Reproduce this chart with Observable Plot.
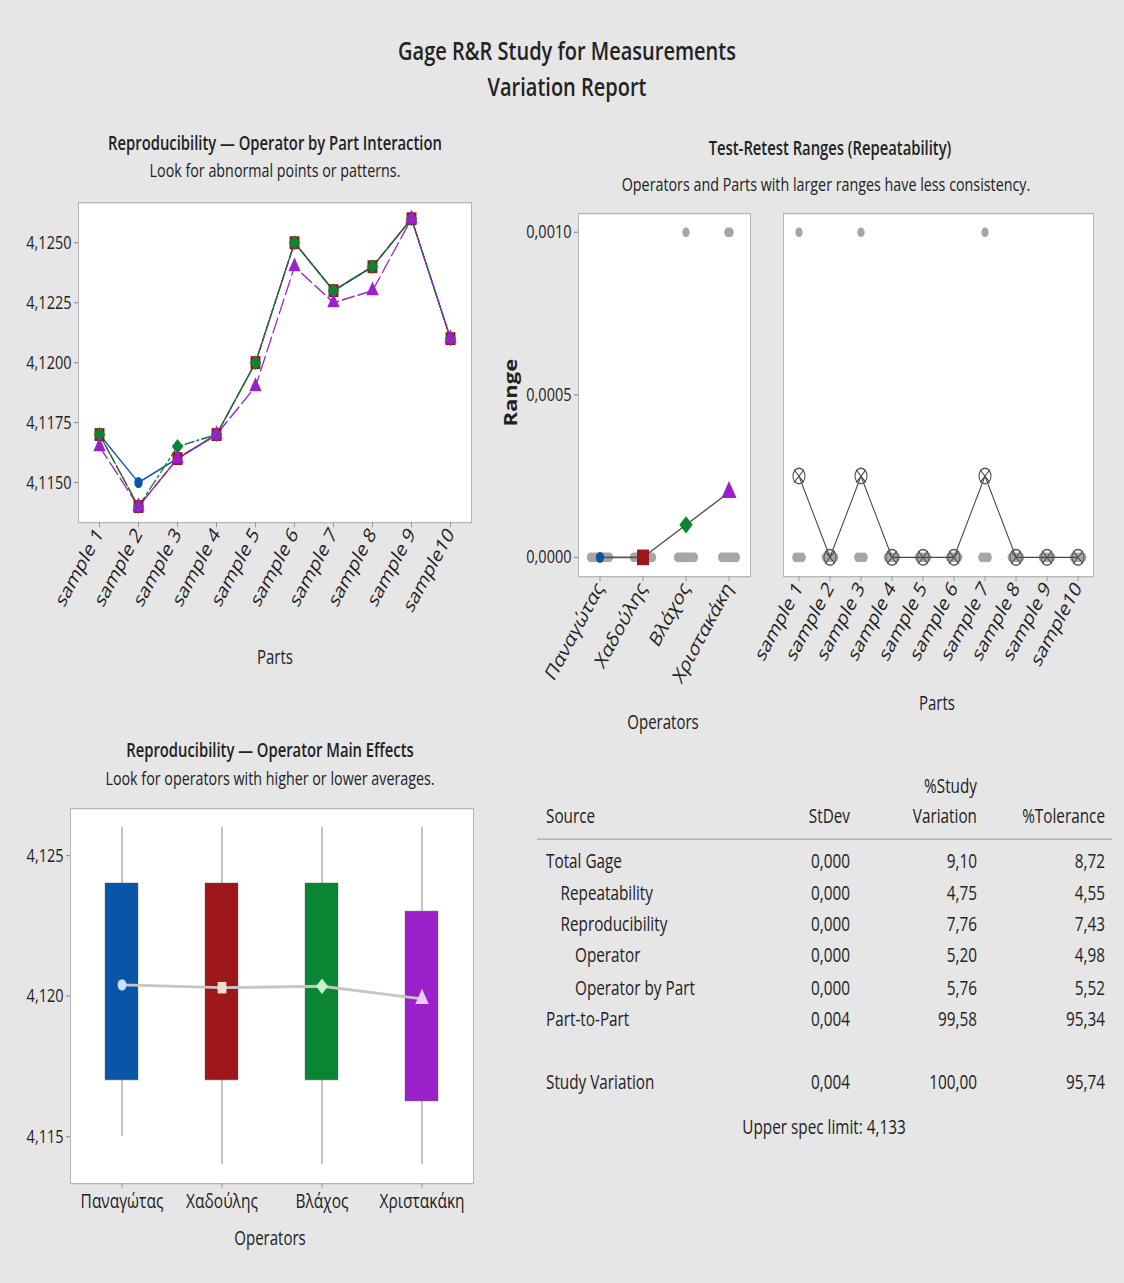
<!DOCTYPE html>
<html>
<head>
<meta charset="utf-8">
<script src="https://cdn.jsdelivr.net/npm/d3@7"></script>
<script src="https://cdn.jsdelivr.net/npm/@observablehq/plot@0.6"></script>
<style>
html,body{margin:0;padding:0;}
body{width:1124px;height:1283px;background:#e6e6e6;position:relative;overflow:hidden;font-family:"Open Sans",sans-serif;color:#222;}
#page{position:absolute;left:0;top:0;width:1124px;height:987px;transform:scaleY(1.3);transform-origin:0 0;}
.t{position:absolute;white-space:nowrap;line-height:1;}
.h1{font-size:20px;font-weight:600;}
.h2{font-size:14.8px;font-weight:600;}
.sub{font-size:14.3px;}
.ax{font-size:15px;}
.tb{font-size:15.3px;}
</style>
</head>
<body>
<div id="page"></div>
<script>
// ---------- data ----------
const operators = ["Παναγώτας", "Χαδούλης", "Βλάχος", "Χριστακάκη"];
const parts = ["sample 1","sample 2","sample 3","sample 4","sample 5","sample 6","sample 7","sample 8","sample 9","sample10"];

// average measurement per part, one array per operator
const avgPanagotas   = [4.1170, 4.1150, 4.1160, 4.1170, 4.1200, 4.1250, 4.1230, 4.1240, 4.1260, 4.1210];
const avgChadoulis   = [4.1170, 4.1140, 4.1160, 4.1170, 4.1200, 4.1250, 4.1230, 4.1240, 4.1260, 4.1210];
const avgVlachos     = [4.1170, 4.1140, 4.1165, 4.1170, 4.1200, 4.1250, 4.1230, 4.1240, 4.1260, 4.1210];
const avgChristakaki = [4.1165, 4.1140, 4.1160, 4.1170, 4.1190, 4.1240, 4.1225, 4.1230, 4.1260, 4.1210];

// test-retest range per part, one array per operator
const rangePanagotas   = [0, 0, 0, 0, 0, 0, 0, 0, 0, 0];
const rangeChadoulis   = [0, 0, 0, 0, 0, 0, 0, 0, 0, 0];
const rangeVlachos     = [0, 0, 0.001, 0, 0, 0, 0, 0, 0, 0];
const rangeChristakaki = [0.001, 0, 0, 0, 0, 0, 0.001, 0, 0, 0];

// operator main effects boxes
const boxLow  = [4.115, 4.114, 4.114, 4.114];
const boxQ1   = [4.117, 4.117, 4.117, 4.11625];
const boxQ3   = [4.124, 4.124, 4.124, 4.123];
const boxHigh = [4.126, 4.126, 4.126, 4.126];

const yTicksInteraction = [4.115, 4.1175, 4.12, 4.1225, 4.125];
const yTicksRange = [0, 0.0005, 0.001];
const yTicksMain = [4.115, 4.12, 4.125];

// table
const tableSources   = ["Total Gage","Repeatability","Reproducibility","Operator","Operator by Part","Part-to-Part","Study Variation"];
const tableIndent    = [0, 1, 1, 2, 2, 0, 0];
const tableStDev     = ["0,000","0,000","0,000","0,000","0,000","0,004","0,004"];
const tableStudyVar  = ["9,10","4,75","7,76","5,20","5,76","99,58","100,00"];
const tableTolerance = ["8,72","4,55","7,43","4,98","5,52","95,34","95,74"];
const upperSpec = "4,133";

// ---------- styling ----------
const opColors = ["#0a55a8", "#9c161a", "#0a8534", "#9a20c9"];
const opPale   = ["#c2e2ff", "#fbdacf", "#c9f2c9", "#eccaf6"];
const opSymbols = ["circle", "square", "diamond2", "triangle"];
const opDash = ["none", "7,3", "9,3,2,3", "12,4"];
const FONT = '"Open Sans", sans-serif';
const comma = f => d => d3.format(f)(d).replace(".", ",");

const page = document.getElementById("page");
function place(svg, left, top) {
  svg.style.position = "absolute";
  svg.style.left = left + "px";
  svg.style.top = top + "px";
  page.appendChild(svg);
}
function txt(s, x, y, cls, align = "center", extra = "") {
  const d = document.createElement("div");
  d.className = "t " + cls;
  d.textContent = s;
  let tr;
  if (align === "center") { d.style.left = x + "px"; tr = "translate(-50%,-50%)"; }
  else if (align === "left") { d.style.left = x + "px"; tr = "translateY(-50%)"; }
  else { d.style.right = (1124 - x) + "px"; tr = "translateY(-50%)"; }
  d.style.top = y + "px";
  d.style.transform = tr + " " + extra;
  page.appendChild(d);
  return d;
}
function frameMargins(svgBox, frame) {
  return {
    width: svgBox.w, height: svgBox.h,
    marginLeft: frame.x0 - svgBox.l, marginRight: svgBox.l + svgBox.w - frame.x1,
    marginTop: frame.y0 - svgBox.t, marginBottom: svgBox.t + svgBox.h - frame.y1
  };
}
const baseStyle = {background: "transparent", color: "#222", fontFamily: FONT, fontSize: "14.5px", overflow: "visible"};

// ---------- titles ----------
txt("Gage R&R Study for Measurements", 567, 38.5, "h1");
txt("Variation Report", 567, 66.9, "h1");
txt("Reproducibility — Operator by Part Interaction", 275, 110, "h2");
txt("Look for abnormal points or patterns.", 275, 130.8, "sub");
txt("Test-Retest Ranges (Repeatability)", 830, 113.8, "h2");
txt("Operators and Parts with larger ranges have less consistency.", 826, 142.3, "sub");
txt("Reproducibility — Operator Main Effects", 270, 576.9, "h2");
txt("Look for operators with higher or lower averages.", 270, 599.2, "sub");

// ---------- panel 1: interaction ----------
const avgs = [avgPanagotas, avgChadoulis, avgVlachos, avgChristakaki];
const interData = operators.flatMap((op, i) => parts.map((p, j) => ({op, i, part: p, value: avgs[i][j]})));
const p1r = [4.2, 5.6, 5.2, 4.6];
const p1 = Plot.plot({
  ...frameMargins({l: 0, t: 140, w: 490, h: 380}, {x0: 78, x1: 471, y0: 155.4, y1: 401.5}),
  style: baseStyle,
  x: {type: "point", domain: parts, padding: 0.5},
  y: {domain: [4.11333, 4.12667]},
  marks: [
    Plot.frame({fill: "white", stroke: "#b5b5b5"}),
    Plot.axisY({ticks: yTicksInteraction, tickFormat: comma(".4f"), tickSize: 4, tickPadding: 3, label: null, stroke: "#999", fill: "#222", fontSize: 14.5}),
    Plot.axisX({tickRotate: -55, tickSize: 4, tickPadding: 2, label: null, stroke: "#999", fill: "#222", fontSize: 16.5}),
    ...operators.map((op, i) => Plot.line(interData.filter(d => d.i === i), {x: "part", y: "value", stroke: opColors[i], strokeWidth: 1.2, strokeDasharray: opDash[i]})),
    ...operators.map((op, i) => Plot.dot(interData.filter(d => d.i === i), {x: "part", y: "value", fill: opColors[i], symbol: opSymbols[i], r: p1r[i]}))
  ]
});
place(p1, 0, 140);
txt("Parts", 275, 505.4, "ax");

// ---------- panel 2 & 3: ranges ----------
const ranges = [rangePanagotas, rangeChadoulis, rangeVlachos, rangeChristakaki];
const rangeData = operators.flatMap((op, i) => parts.map((p, j) => ({op, i, j, part: p, value: ranges[i][j]})));
// spread tied values side by side (fixed spacing in x units)
function withOffsets(rows, key, spacing) {
  const out = [];
  for (const [, byVal] of d3.group(rows, d => d[key], d => d.value)) {
    for (const [, items] of byVal) {
      const n = items.length;
      items.forEach((d, k) => out.push({...d, xo: d[key] + (k - (n - 1) / 2) * spacing}));
    }
  }
  return out;
}
const opMeans = operators.map((op, i) => ({op, i, value: d3.mean(ranges[i])}));
const partMeans = parts.map((p, j) => ({part: p, j, value: d3.mean(ranges, r => r[j])}));
const rangeDomain = [-0.0000594, 0.0010575];
const p2r = [4.2, 6.8, 6.0, 5.6];

const p2 = Plot.plot({
  ...frameMargins({l: 490, t: 150, w: 270, h: 380}, {x0: 578, x1: 750, y0: 163.8, y1: 443.1}),
  style: baseStyle,
  x: {type: "linear", domain: [-0.5, 3.5]},
  y: {domain: rangeDomain},
  marks: [
    Plot.frame({fill: "white", stroke: "#b5b5b5"}),
    Plot.axisY({ticks: yTicksRange, tickFormat: comma(".4f"), tickSize: 4, tickPadding: 3, label: null, stroke: "#999", fill: "#222", fontSize: 14.5}),
    Plot.axisX({ticks: [0, 1, 2, 3], tickFormat: i => operators[i], tickRotate: -55, tickSize: 4, tickPadding: 2, label: null, stroke: "#999", fill: "#222", fontSize: 16.5}),
    Plot.dot(withOffsets(rangeData, "i", 0.049), {x: "xo", y: "value", r: 3.7, fill: "#a6a6a6"}),
    Plot.line(opMeans, {x: "i", y: "value", stroke: "#555", strokeWidth: 1.2}),
    ...operators.map((op, i) => Plot.dot(opMeans.filter(d => d.i === i), {x: "i", y: "value", fill: opColors[i], symbol: opSymbols[i], r: p2r[i]}))
  ]
});
place(p2, 490, 150);
txt("Range", 510, 302.3, "", "center", "rotate(-90deg)").style.cssText += "font-size:17px;font-weight:700;";
txt("Operators", 663, 555.4, "ax");

const p3 = Plot.plot({
  ...frameMargins({l: 760, t: 150, w: 364, h: 380}, {x0: 783, x1: 1093, y0: 163.8, y1: 443.1}),
  style: baseStyle,
  x: {type: "linear", domain: [-0.5, 9.5]},
  y: {domain: rangeDomain, axis: null},
  marks: [
    Plot.frame({fill: "white", stroke: "#b5b5b5"}),
    Plot.axisX({ticks: d3.range(parts.length), tickFormat: j => parts[j], tickRotate: -55, tickSize: 4, tickPadding: 2, label: null, stroke: "#999", fill: "#222", fontSize: 16.5}),
    Plot.dot(withOffsets(rangeData, "j", 0.1), {x: "xo", y: "value", r: 3.7, fill: "#a6a6a6"}),
    Plot.line(partMeans, {x: "j", y: "value", stroke: "#444", strokeWidth: 1}),
    Plot.dot(partMeans, {x: "j", y: "value", r: 6, stroke: "#555", strokeWidth: 1.1, fill: "none"}),
    Plot.dot(partMeans, {x: "j", y: "value", r: 4.5, symbol: "times", stroke: "#555", strokeWidth: 1})
  ]
});
place(p3, 760, 150);
txt("Parts", 937, 540.8, "ax");

// ---------- panel 4: operator main effects ----------
const opAvg = avgs.map(a => d3.mean(a));
const boxRows = operators.map((op, i) => ({op, i, lo: boxLow[i], q1: boxQ1[i], q3: boxQ3[i], hi: boxHigh[i], mean: opAvg[i]}));
const p4r = [4.4, 5.0, 5.4, 5.0];
const p4 = Plot.plot({
  ...frameMargins({l: 0, t: 610, w: 490, h: 330}, {x0: 70, x1: 473, y0: 621.5, y1: 910}),
  style: baseStyle,
  x: {type: "band", domain: operators, paddingInner: 0.67, paddingOuter: 0.335},
  y: {domain: [4.11333, 4.12667]},
  color: {domain: operators, range: opColors},
  marks: [
    Plot.frame({fill: "white", stroke: "#b5b5b5"}),
    Plot.axisY({ticks: yTicksMain, tickFormat: comma(".3f"), tickSize: 4, tickPadding: 3, label: null, stroke: "#999", fill: "#222", fontSize: 14.5}),
    Plot.axisX({tickSize: 4, tickPadding: 4, label: null, stroke: "#999", fill: "#222", fontSize: 15.5}),
    Plot.ruleX(boxRows, {x: "op", y1: "lo", y2: "hi", stroke: "#8a8a8a", strokeWidth: 1}),
    Plot.barY(boxRows, {x: "op", y1: "q1", y2: "q3", fill: "op", stroke: "#555", strokeOpacity: 0.35}),
    Plot.line(boxRows, {x: "op", y: "mean", stroke: "#c6c6c6", strokeWidth: 2.2}),
    ...operators.map((op, i) => Plot.dot(boxRows.filter(d => d.i === i), {x: "op", y: "mean", fill: opPale[i], symbol: opSymbols[i], r: p4r[i]}))
  ]
});
place(p4, 0, 610);
txt("Operators", 270, 951.5, "ax");

// ---------- table ----------
txt("%Study", 977, 604.6, "tb", "right");
txt("Source", 546, 627.7, "tb", "left");
txt("StDev", 850, 627.7, "tb", "right");
txt("Variation", 977, 627.7, "tb", "right");
txt("%Tolerance", 1105, 627.7, "tb", "right");
const rule = document.createElement("div");
rule.style.cssText = "position:absolute;left:537px;width:575px;top:644.6px;height:1.6px;background:#a9a9a9;";
page.appendChild(rule);
tableSources.forEach((s, k) => {
  const y = 662.3 + (k < 6 ? k : 7) * 24.3;
  txt(s, 546 + tableIndent[k] * 14.5, y, "tb", "left");
  txt(tableStDev[k], 850, y, "tb", "right");
  txt(tableStudyVar[k], 977, y, "tb", "right");
  txt(tableTolerance[k], 1105, y, "tb", "right");
});
txt("Upper spec limit: " + upperSpec, 824, 866.9, "tb");
</script>
</body>
</html>
